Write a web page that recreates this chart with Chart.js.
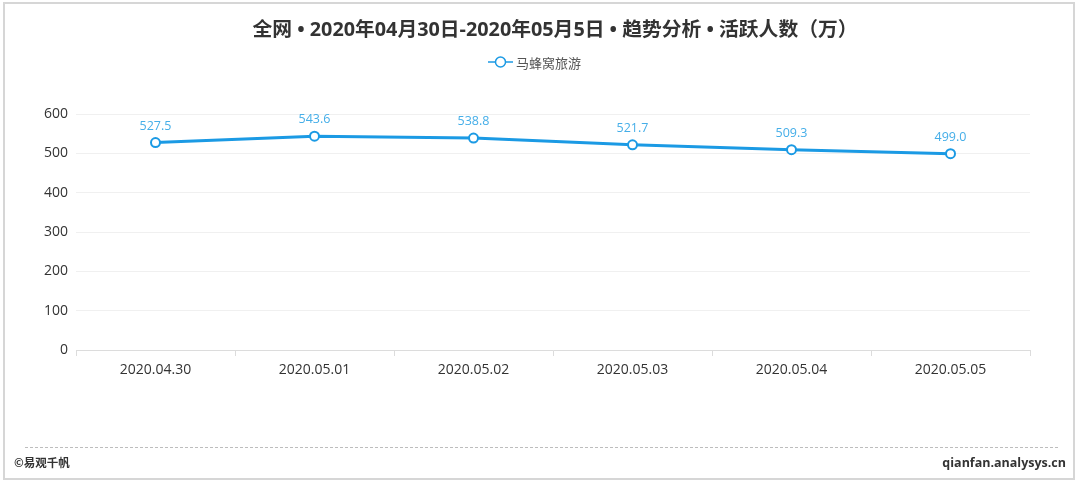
<!DOCTYPE html>
<html>
<head>
<meta charset="utf-8">
<script src="https://cdn.jsdelivr.net/npm/chart.js@4/dist/chart.umd.min.js"></script>
<style>
html,body{margin:0;padding:0;background:#fff;}
#wrap{position:relative;width:1080px;height:485px;}
canvas{position:absolute;left:0;top:0;}
</style>
</head>
<body>
<div id="wrap"><canvas id="c" width="1080" height="485"></canvas></div>
<script>
const titleText = '全网 • 2020年04月30日-2020年05月5日 • 趋势分析 • 活跃人数（万）';
const seriesName = '马蜂窝旅游';
const categories = ['2020.04.30','2020.05.01','2020.05.02','2020.05.03','2020.05.04','2020.05.05'];
const values = [527.5, 543.6, 538.8, 521.7, 509.3, 499.0];
const yTicks = [0, 100, 200, 300, 400, 500, 600];
const footerLeft = '©易观千帆';
const footerRight = 'qianfan.analysys.cn';

const LINE = '#1b9ae4';
const LABEL = '#45aee8';
const FONT = '"Open Sans", "Noto Sans CJK SC", sans-serif';
const CJK = '"Noto Sans CJK SC", sans-serif';

const decor = {
  id: 'decor',
  beforeDraw(chart) {
    const ctx = chart.ctx;
    ctx.save();
    ctx.fillStyle = '#fff';
    ctx.fillRect(0, 0, chart.width, chart.height);
    ctx.restore();
  },
  afterDraw(chart) {
    const ctx = chart.ctx;
    const ca = chart.chartArea;
    ctx.save();
    // frame
    ctx.strokeStyle = '#d6d6d6';
    ctx.lineWidth = 2;
    ctx.strokeRect(4, 3, 1070, 476);
    // title
    ctx.fillStyle = '#333';
    ctx.font = 'bold 19.8px ' + FONT;
    ctx.textAlign = 'center';
    ctx.textBaseline = 'middle';
    const cx = (ca.left + ca.right) / 2;
    ctx.fillText(titleText, cx + 2, 30);
    // legend
    ctx.font = '13px ' + CJK;
    const lx = 488;
    const ly = 62;
    const iconW = 25;
    ctx.strokeStyle = LINE;
    ctx.lineWidth = 1.5;
    ctx.beginPath();
    ctx.moveTo(lx, ly); ctx.lineTo(lx + iconW, ly);
    ctx.stroke();
    ctx.beginPath();
    ctx.arc(lx + iconW / 2, ly, 5, 0, Math.PI * 2);
    ctx.fillStyle = '#fff';
    ctx.fill();
    ctx.stroke();
    ctx.fillStyle = '#555';
    ctx.textAlign = 'left';
    ctx.fillText(seriesName, lx + iconW + 3, ly + 1);
    // data labels
    const meta = chart.getDatasetMeta(0);
    ctx.font = '12.5px ' + FONT;
    ctx.fillStyle = LABEL;
    ctx.textAlign = 'center';
    ctx.textBaseline = 'bottom';
    meta.data.forEach((pt, i) => {
      ctx.fillText(values[i].toFixed(1), pt.x, pt.y - 10);
    });
    // dashed footer line
    ctx.strokeStyle = '#bdbdbd';
    ctx.lineWidth = 1;
    ctx.setLineDash([3, 2]);
    ctx.beginPath();
    ctx.moveTo(25, 447.5); ctx.lineTo(1058, 447.5);
    ctx.stroke();
    ctx.setLineDash([]);
    // footer texts
    ctx.fillStyle = '#333';
    ctx.font = 'bold 11.5px ' + CJK;
    ctx.textBaseline = 'middle';
    ctx.textAlign = 'left';
    ctx.fillText(footerLeft, 14, 463);
    ctx.font = 'bold 12.5px ' + FONT;
    ctx.textAlign = 'right';
    ctx.fillText(footerRight, 1066, 463);
    ctx.restore();
  }
};

new Chart(document.getElementById('c'), {
  type: 'line',
  data: {
    labels: categories,
    datasets: [{
      label: seriesName,
      data: values,
      borderColor: LINE,
      borderWidth: 3,
      pointRadius: 4.5,
      pointBorderWidth: 2,
      pointBackgroundColor: '#fff',
      pointBorderColor: LINE,
      tension: 0,
      fill: false
    }]
  },
  options: {
    responsive: false,
    animation: false,
    events: [],
    layout: { padding: { top: 114, right: 50, left: 0, bottom: 0 } },
    plugins: { legend: { display: false }, title: { display: false }, tooltip: { enabled: false } },
    scales: {
      x: {
        offset: true,
        grid: { display: true, drawOnChartArea: false, drawTicks: true, tickLength: 6, color: '#dcdcdc', offset: true },
        border: { display: true, color: '#dcdcdc', width: 1 },
        ticks: { color: '#333', font: { size: 14, family: FONT }, padding: 6, maxRotation: 0 },
        afterFit(scale) { scale.height = 135; }
      },
      y: {
        min: 0, max: 600,
        afterBuildTicks(scale) { scale.ticks = yTicks.map(v => ({ value: v })); },
        grid: { color: '#f0f0f0', drawTicks: false },
        border: { display: false },
        ticks: { color: '#333', font: { size: 14, family: FONT }, padding: 8 },
        afterFit(scale) { scale.width = 76; }
      }
    }
  },
  plugins: [decor]
});
</script>
</body>
</html>
